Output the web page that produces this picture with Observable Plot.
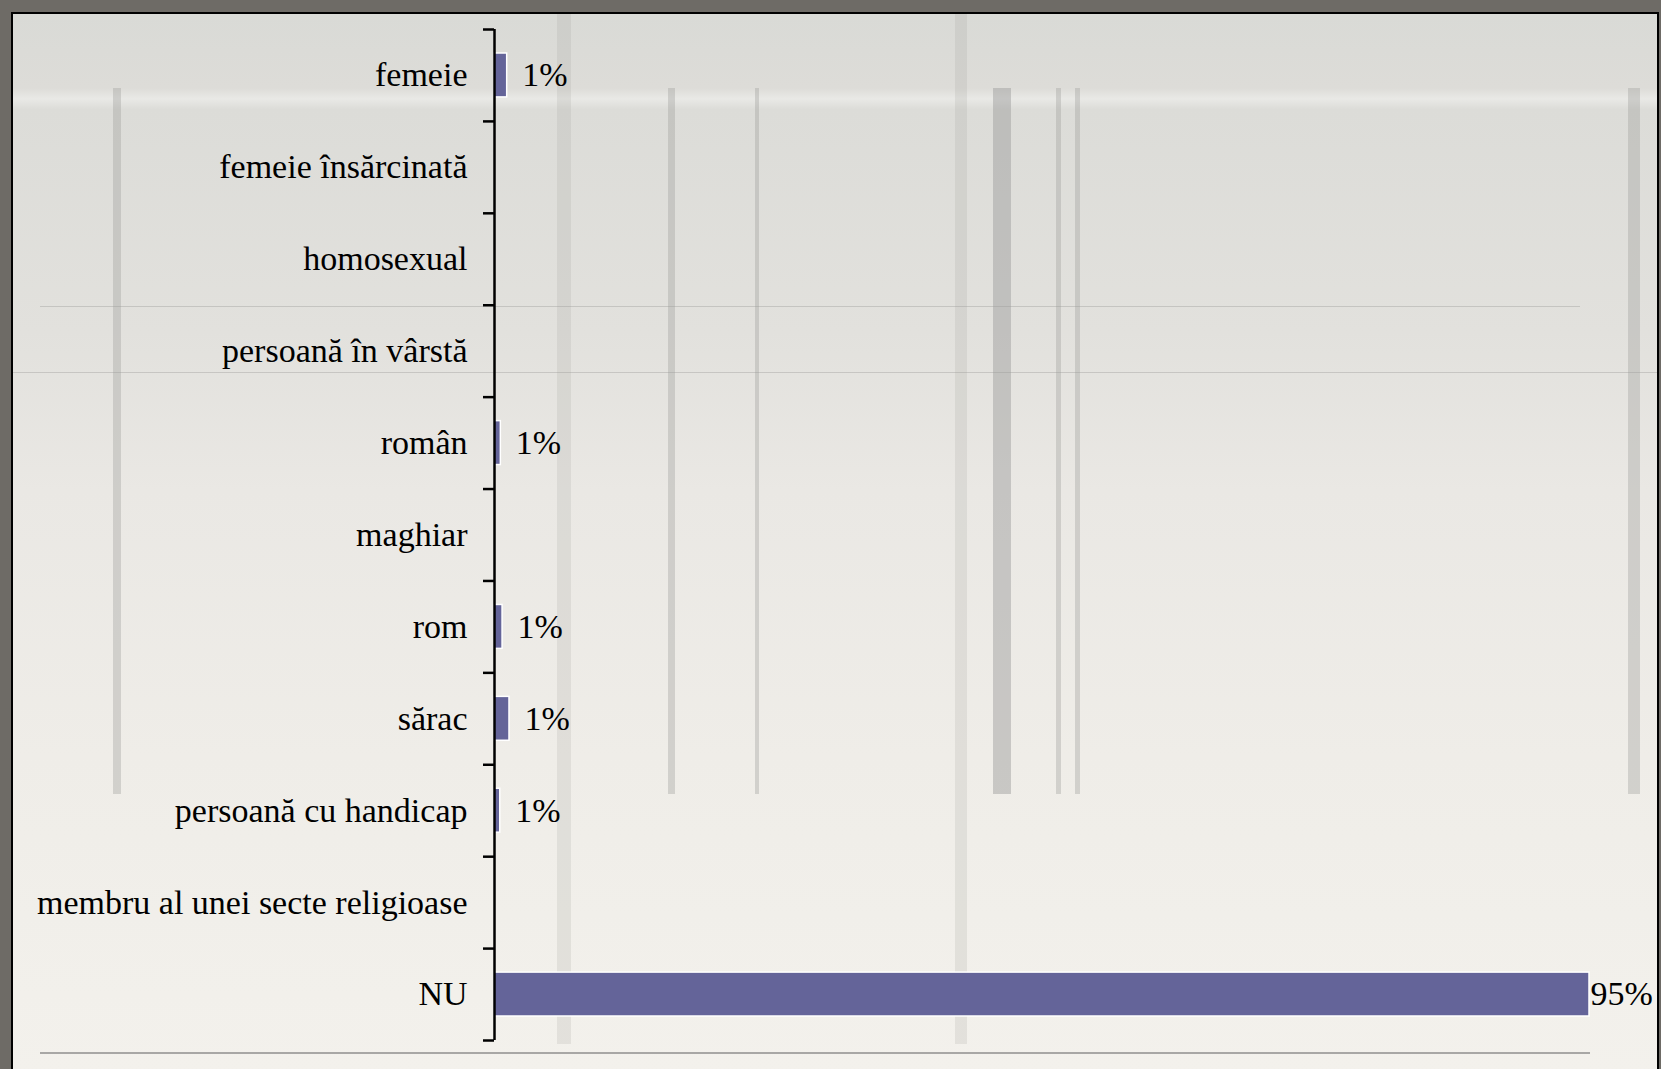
<!DOCTYPE html>
<html>
<head>
<meta charset="utf-8">
<script src="https://cdn.jsdelivr.net/npm/d3@7"></script>
<script src="https://cdn.jsdelivr.net/npm/@observablehq/plot@0.6"></script>
<style>
  html, body { margin: 0; padding: 0; width: 1661px; height: 1069px; overflow: hidden; background: #6e6b66; }
  #bg { position: absolute; left: 11px; top: 12px; width: 1644px; height: 1060px;
        border-left: 2px solid #000; border-top: 2px solid #000; border-right: 2px solid #000;
        background: linear-gradient(180deg, #d9dad6 0%, #dddcd8 7%, #e9e9e6 8%, #dcdcd8 9%, #e2e1dd 30%, #eae8e4 45%, #efede8 70%, #f3f1ec 100%); }
  .stripe { position: absolute; background: #9a9a98; opacity: 0.35; }
  .hline { position: absolute; height: 1px; background: #9a9a98; opacity: 0.4; }
  #chart { position: absolute; left: 0; top: 0; }
</style>
</head>
<body>
<div id="bg"></div>
<div class="stripe" style="left:113px; top:88px; width:8px; height:706px;"></div>
<div class="stripe" style="left:668px; top:88px; width:7px; height:706px;"></div>
<div class="stripe" style="left:755px; top:88px; width:4px; height:706px;"></div>
<div class="stripe" style="left:993px; top:88px; width:18px; height:706px; opacity:0.45"></div>
<div class="stripe" style="left:1056px; top:88px; width:5px; height:706px;"></div>
<div class="stripe" style="left:1075px; top:88px; width:5px; height:706px;"></div>
<div class="stripe" style="left:1628px; top:88px; width:12px; height:706px;"></div>
<div class="stripe" style="left:557px; top:14px; width:14px; height:1030px; opacity:0.18"></div>
<div class="stripe" style="left:955px; top:14px; width:12px; height:1030px; opacity:0.18"></div>
<div class="hline" style="left:40px; top:306px; width:1540px;"></div>
<div class="hline" style="left:13px; top:372px; width:1644px;"></div>
<div class="hline" style="left:40px; top:1052px; width:1550px; height:2px; background:#777; opacity:0.6"></div>
<div id="chart"></div>
<script>
const categories = ["femeie", "femeie însărcinată", "homosexual", "persoană în vârstă", "român", "maghiar", "rom", "sărac", "persoană cu handicap", "membru al unei secte religioase", "NU"];
const values = [1.1, 0, 0, 0, 0.55, 0, 0.7, 1.3, 0.5, 0, 95];
const valueLabels = ["1%", "", "", "", "1%", "", "1%", "1%", "1%", "", "95%"];

const W = 1661, H = 1069;
const mTop = 29, mBottom = 29, mLeft = 494, mRight = 72;
const bw = (H - mTop - mBottom) / categories.length;

const data = categories.map((c, i) => ({cat: c, value: values[i], label: valueLabels[i]}));
const small = data.filter(d => d.label && d.value < 50);
const big = data.filter(d => d.label && d.value >= 50);
const lastCat = [categories[categories.length - 1]];

const plot = Plot.plot({
  width: W,
  height: H,
  marginTop: mTop,
  marginBottom: mBottom,
  marginLeft: mLeft,
  marginRight: mRight,
  style: {fontFamily: "'Liberation Serif', 'Times New Roman', serif", fontSize: "34px", background: "transparent", color: "#000", overflow: "visible"},
  x: {domain: [0, 95], axis: null, label: null},
  y: {domain: categories, padding: 0, round: false, axis: null, label: null},
  marks: [
    Plot.barX(data.filter(d => d.value > 0), {x: "value", y: "cat", fill: "#646499", stroke: "#ffffff", strokeWidth: 1.5, insetTop: 24, insetBottom: 24}),
    Plot.axisY({anchor: "left", tickSize: 0, tickPadding: 27, fontSize: 34, fill: "#000", label: null, tickFormat: d => d}),
    Plot.ruleY(categories, {y: d => d, x1: 0, x2: 0, insetLeft: -11, dy: -bw / 2, stroke: "#000", strokeWidth: 2.5}),
    Plot.ruleY(lastCat, {y: d => d, x1: 0, x2: 0, insetLeft: -11, dy: bw / 2, stroke: "#000", strokeWidth: 2.5}),
    Plot.ruleX([0], {stroke: "#000", strokeWidth: 2.5}),
    Plot.text(small, {x: "value", y: "cat", text: "label", textAnchor: "start", dx: 15, fontSize: 34, fill: "#000"}),
    Plot.text(big, {x: "value", y: "cat", text: "label", textAnchor: "start", dx: 1, fontSize: 34, fill: "#000"})
  ]
});
document.getElementById("chart").appendChild(plot);
</script>
</body>
</html>
